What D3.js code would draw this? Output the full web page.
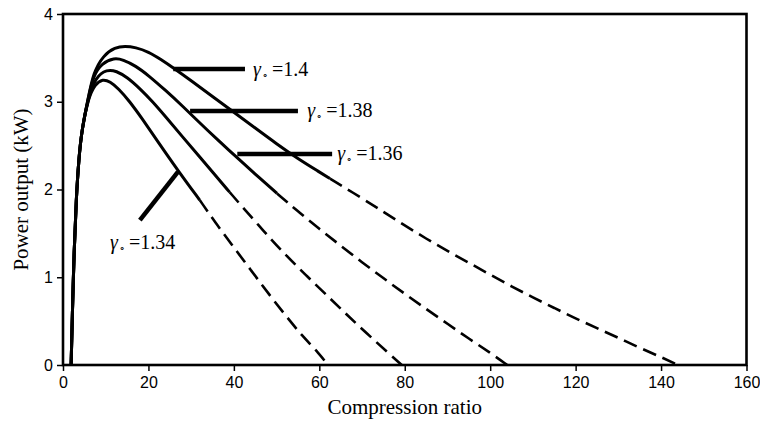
<!DOCTYPE html>
<html>
<head>
<meta charset="utf-8">
<script src="https://cdn.jsdelivr.net/npm/d3@7"></script>
<style>
  body { margin: 0; background: #fff; }
  .tick text { font-family: "Liberation Sans", Arial, sans-serif; font-size: 16px; fill: #000; }
  .title { font-family: "Liberation Serif", "Times New Roman", serif; font-size: 21px; fill: #000; }
  .glabel { font-family: "Liberation Serif", "Times New Roman", serif; font-size: 20px; fill: #000; }
</style>
</head>
<body>
<script>
var ratioTicks = [0, 20, 40, 60, 80, 100, 120, 140, 160];
var powerTicks = [0, 1, 2, 3, 4];

// common steep rise, all four curves share it
var rise = [[1.9, 0], [2.2, 0.6], [2.6, 1.3], [3.1, 1.9], [3.7, 2.35], [4.4, 2.68], [5.9, 3.04]];

var g134Solid = [[7.5, 3.2], [9.3, 3.26], [11, 3.23], [13, 3.15], [15.5, 3.01], [18.5, 2.81], [22, 2.56], [27, 2.21], [32, 1.88]];
var g134Dash = [[32, 1.88], [36, 1.6], [40, 1.34], [44, 1.08], [48, 0.82], [52, 0.57], [56, 0.33], [60, 0.13], [62, 0]];

var g136Solid = [[7.6, 3.28], [10.3, 3.37], [12.5, 3.35], [15, 3.28], [18, 3.15], [21, 3.0], [24, 2.83], [28, 2.6], [32, 2.37], [35.5, 2.17], [39, 1.97]];
var g136Dash = [[39, 1.97], [42.2, 1.79], [46.9, 1.53], [51.2, 1.3], [56.7, 1.03], [62.5, 0.76], [66.5, 0.57], [71.1, 0.36], [76.1, 0.14], [79.3, 0]];

var g138Solid = [[7.1, 3.3], [9.1, 3.44], [12, 3.5], [14, 3.48], [17, 3.41], [20, 3.3], [24, 3.13], [28, 2.95], [32, 2.76], [36, 2.575], [40.7, 2.365], [45, 2.175], [50.1, 1.955]];
var g138Dash = [[50.1, 1.955], [55, 1.75], [60, 1.55], [65, 1.36], [70, 1.17], [75, 0.99], [80, 0.81], [85, 0.64], [90, 0.47], [95, 0.3], [100, 0.14], [104, 0]];

var g140Solid = [[7.1, 3.33], [9.45, 3.53], [12.2, 3.62], [14.5, 3.635], [17, 3.62], [20, 3.57], [23, 3.48], [26, 3.38], [30, 3.24], [35, 3.06], [40, 2.88], [45, 2.7], [50, 2.52], [55, 2.35], [60, 2.2], [62.5, 2.125]];
var g140Dash = [[62.5, 2.125], [70, 1.9], [75, 1.745], [80, 1.59], [85, 1.44], [90, 1.3], [95, 1.165], [100, 1.03], [105, 0.895], [110, 0.77], [115, 0.65], [120, 0.53], [125, 0.42], [130, 0.31], [135, 0.195], [140, 0.09], [144, 0]];

var gammaNames = ['1.34', '1.36', '1.38', '1.4'];
// label leader lines and text anchors, in data units
var leaderLines = [[[18.0, 1.652], [26.9, 2.2]], [[40.8, 2.405], [63.0, 2.405]], [[29.75, 2.895], [55.0, 2.895]], [[25.8, 3.373], [42.6, 3.373]]];
var labelAt = [[11.0, 1.322], [64.2, 2.336], [57.2, 2.826], [44.5, 3.29]];

var svg = d3.select("body").append("svg").attr("width", 760).attr("height", 423);

var x = d3.scaleLinear().domain([0, 160]).range([63, 746.5]);
var y = d3.scaleLinear().domain([0, 4]).range([365, 14]);

var xAxis = d3.axisBottom(x).tickValues(ratioTicks).tickFormat(d3.format('d')).tickSize(6).tickPadding(6);
var yAxis = d3.axisLeft(y).tickValues(powerTicks).tickFormat(d3.format('d')).tickSize(6).tickPadding(4);

var gx = svg.append('g').attr('transform', 'translate(0,365)').call(xAxis);
var gy = svg.append('g').attr('transform', 'translate(63,0)').call(yAxis);
gx.select('.domain').remove();
gy.select('.domain').remove();
svg.selectAll('.tick line').attr('stroke', '#000').attr('stroke-width', 1.5);

// frame
svg.append('rect')
    .attr('x', x(0)).attr('y', y(4))
    .attr('width', x(160) - x(0)).attr('height', y(0) - y(4))
    .attr('fill', 'none').attr('stroke', '#000').attr('stroke-width', 2.6);

var line = d3.line().x(d => x(d[0])).y(d => y(d[1])).curve(d3.curveBasis);

var solids = [g134Solid, g136Solid, g138Solid, g140Solid];
var dashes = [g134Dash, g136Dash, g138Dash, g140Dash];

svg.selectAll('path.solid')
    .data(solids)
    .enter().append('path')
    .attr('class', 'solid')
    .attr('d', d => line(rise.concat(d)))
    .attr('fill', 'none').attr('stroke', '#000').attr('stroke-width', 3);

svg.selectAll('path.dash')
    .data(dashes)
    .enter().append('path')
    .attr('class', 'dash')
    .attr('d', d => line(d))
    .attr('fill', 'none').attr('stroke', '#000').attr('stroke-width', 2.6)
    .attr('stroke-dasharray', '14,7');

// leader lines
svg.selectAll('line.leader')
    .data(leaderLines)
    .enter().append('line')
    .attr('class', 'leader')
    .attr('x1', d => x(d[0][0])).attr('y1', d => y(d[0][1]))
    .attr('x2', d => x(d[1][0])).attr('y2', d => y(d[1][1]))
    .attr('stroke', '#000').attr('stroke-width', 4.5);

var lab = svg.selectAll('text.glabel')
    .data(gammaNames)
    .enter().append('text')
    .attr('class', 'glabel')
    .attr('x', (d, i) => x(labelAt[i][0]))
    .attr('y', (d, i) => y(labelAt[i][1]));
lab.append('tspan').attr('font-style', 'italic').text('γ');
lab.append('tspan').attr('font-size', '10px').attr('dx', 1).attr('dy', 2).text('∘');
lab.append('tspan').attr('dx', 4).attr('dy', -2).text(d => '=' + d);

svg.append('text')
    .attr('class', 'title')
    .attr('x', (x(0) + x(160)) / 2)
    .attr('y', 414)
    .attr('text-anchor', 'middle')
    .text('Compression ratio');

svg.append('text')
    .attr('class', 'title')
    .attr('transform', 'translate(28,' + (y(0) + y(4)) / 2 + ') rotate(-90)')
    .attr('text-anchor', 'middle')
    .text('Power output (kW)');
</script>
</body>
</html>
